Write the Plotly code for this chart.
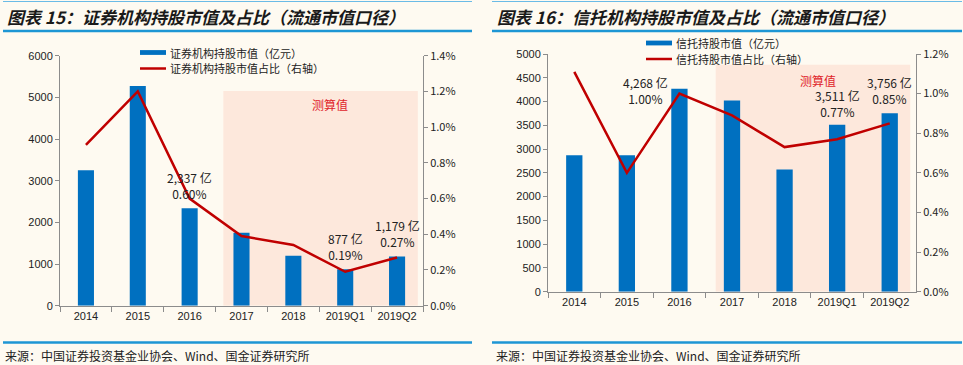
import plotly.graph_objects as go

# ---------------- data ----------------
categories = ["2014", "2015", "2016", "2017", "2018", "2019Q1", "2019Q2"]
sec_value = [3250, 5270, 2337, 1750, 1200, 877, 1179]          # 证券机构持股市值（亿元）
sec_ratio = [0.0090, 0.0120, 0.0060, 0.0039, 0.0034, 0.0019, 0.0027]
trust_value = [2870, 2870, 4268, 4020, 2570, 3511, 3756]        # 信托持股市值（亿元）
trust_ratio = [0.0111, 0.0060, 0.0100, 0.0089, 0.0073, 0.0077, 0.0085]

sec_bar_name = "证券机构持股市值（亿元）"
sec_line_name = "证券机构持股市值占比（右轴）"
trust_bar_name = "信托持股市值（亿元）"
trust_line_name = "信托持股市值占比（右轴）"

left_ticks = [0, 1000, 2000, 3000, 4000, 5000, 6000]
left_pct_ticks = [0, 0.002, 0.004, 0.006, 0.008, 0.010, 0.012, 0.014]
right_ticks = [0, 500, 1000, 1500, 2000, 2500, 3000, 3500, 4000, 4500, 5000]
right_pct_ticks = [0, 0.002, 0.004, 0.006, 0.008, 0.010, 0.012]

W, H = 963, 365
def px(x):
    return x / W
def py(y):
    return 1 - y / H

BLUE = "#0070c0"
RED = "#c00000"
BG = "#fefaf1"
SHADE = "#fde8dc"
RULE = "#1e96d4"
AX = "#8c8c8c"
CJK = "Noto Sans CJK SC, sans-serif"
LAT = "Liberation Sans, Arial, sans-serif"

fig = go.Figure()

fig.add_trace(go.Bar(x=categories, y=sec_value, name=sec_bar_name,
                     marker=dict(color=BLUE, line=dict(width=0)), width=0.31,
                     xaxis="x", yaxis="y", showlegend=False))
fig.add_trace(go.Scatter(x=categories, y=sec_ratio, name=sec_line_name,
                         mode="lines", line=dict(color=RED, width=2.5),
                         xaxis="x", yaxis="y2", showlegend=False))
fig.add_trace(go.Bar(x=categories, y=trust_value, name=trust_bar_name,
                     marker=dict(color=BLUE, line=dict(width=0)), width=0.31,
                     xaxis="x2", yaxis="y3", showlegend=False))
fig.add_trace(go.Scatter(x=categories, y=trust_ratio, name=trust_line_name,
                         mode="lines", line=dict(color=RED, width=2.5),
                         xaxis="x2", yaxis="y4", showlegend=False))

def xax(domain, anchor):
    return dict(domain=domain, anchor=anchor, type="category", showgrid=False,
                showline=True, linecolor=AX, linewidth=1, ticks="outside",
                tickson="boundaries", ticklen=5, tickcolor=AX,
                tickfont=dict(family=LAT, size=11, color="#222"), zeroline=False,
                range=[-0.5, 6.5], fixedrange=True, automargin=False)

def yax(domain, anchor, rng, tv, side="left", overlay=None, pct=False):
    d = dict(anchor=anchor, range=rng, tickvals=tv, showgrid=False, zeroline=False,
             showline=True, linecolor=AX, linewidth=1, ticks="outside", ticklen=4,
             tickcolor=AX, side=side, automargin=False,
             tickfont=dict(family=(CJK if pct else LAT), size=11, color="#222"))
    if overlay:
        d["overlaying"] = overlay
    else:
        d["domain"] = domain
    if pct:
        d["tickformat"] = ".1%"
    return d

ydomL = [py(305.7), py(55.7)]
ydomR = [py(291.7), py(54)]

fig.update_layout(
    width=W, height=H, autosize=False,
    margin=dict(l=0, r=0, t=0, b=0),
    paper_bgcolor=BG, plot_bgcolor=BG,
    font=dict(family=CJK, size=12, color="#222"),
    xaxis=xax([px(60), px(423)], "y"),
    yaxis=yax(ydomL, "x", [0, 6000], left_ticks),
    yaxis2=yax(None, "x", [0, 0.014], left_pct_ticks, side="right", overlay="y", pct=True),
    xaxis2=xax([px(548), px(916)], "y3"),
    yaxis3=yax(ydomR, "x2", [0, 5000], right_ticks),
    yaxis4=yax(None, "x2", [0, 0.012], right_pct_ticks, side="right", overlay="y3", pct=True),
    showlegend=False,
)

# shaded "测算值" regions
fig.add_shape(type="rect", xref="x", yref="y", x0=2.65, x1=6.4, y0=0, y1=5150,
              fillcolor=SHADE, line=dict(width=0), layer="below")
fig.add_shape(type="rect", xref="x2", yref="y3", x0=2.69, x1=6.39, y0=0, y1=4772,
              fillcolor=SHADE, line=dict(width=0), layer="below")

# legends (key + label)
def legend_entry(x0, y, kind, label):
    if kind == "bar":
        fig.add_shape(type="rect", xref="paper", yref="paper", x0=px(x0), x1=px(x0 + 26),
                      y0=py(y + 2.4), y1=py(y - 2.4), fillcolor=BLUE, line=dict(width=0))
    else:
        fig.add_shape(type="line", xref="paper", yref="paper", x0=px(x0), x1=px(x0 + 26),
                      y0=py(y), y1=py(y), line=dict(color=RED, width=2.5))
    fig.add_annotation(xref="paper", yref="paper", x=px(x0 + 29), y=py(y), xanchor="left",
                       yanchor="middle", showarrow=False, text=label, borderpad=0,
                       font=dict(family=CJK, size=11, color="#222"))

legend_entry(140, 52.5, "bar", sec_bar_name)
legend_entry(140, 68.5, "line", sec_line_name)
legend_entry(646, 43, "bar", trust_bar_name)
legend_entry(646, 59, "line", trust_line_name)

# header / footer rules
for x0, x1 in [(3, 472), (492, 962)]:
    fig.add_shape(type="line", xref="paper", yref="paper", x0=px(x0), x1=px(x1),
                  y0=py(1.5), y1=py(1.5), line=dict(color="#6bbbe6", width=1))
    fig.add_shape(type="line", xref="paper", yref="paper", x0=px(x0), x1=px(x1),
                  y0=py(31), y1=py(31), line=dict(color=RULE, width=2.5))
    fig.add_shape(type="line", xref="paper", yref="paper", x0=px(x0), x1=px(x1),
                  y0=py(342.5), y1=py(342.5), line=dict(color=RULE, width=2.5))

# titles & sources
fig.add_annotation(xref="paper", yref="paper", x=px(5), y=py(16), xanchor="left",
                   yanchor="middle", showarrow=False,
                   text="<b><i>图表 15：证券机构持股市值及占比（流通市值口径）</i></b>",
                   font=dict(family=CJK, size=17, color="#1a1a1a"))
fig.add_annotation(xref="paper", yref="paper", x=px(495), y=py(16), xanchor="left",
                   yanchor="middle", showarrow=False,
                   text="<b><i>图表 16：信托机构持股市值及占比（流通市值口径）</i></b>",
                   font=dict(family=CJK, size=17, color="#1a1a1a"))
fig.add_annotation(xref="paper", yref="paper", x=px(3), y=py(355), xanchor="left",
                   yanchor="middle", showarrow=False,
                   text="来源：中国证券投资基金业协会、Wind、国金证券研究所",
                   font=dict(family=CJK, size=12, color="#222"))
fig.add_annotation(xref="paper", yref="paper", x=px(494), y=py(355), xanchor="left",
                   yanchor="middle", showarrow=False,
                   text="来源：中国证券投资基金业协会、Wind、国金证券研究所",
                   font=dict(family=CJK, size=12, color="#222"))

# 测算值 labels
fig.add_annotation(xref="x", yref="y", x=4.71, y=4817, text="测算值", showarrow=False,
                   font=dict(family=CJK, size=12, color="#e0242a"))
fig.add_annotation(xref="x2", yref="y3", x=4.64, y=4453, text="测算值", showarrow=False,
                   font=dict(family=CJK, size=12, color="#e0242a"))

# data labels
def lab(xr, yr, x, y, v, r):
    fig.add_annotation(xref=xr, yref=yr, x=x, y=y, showarrow=False,
                       text=f"{v:,} 亿<br>{r*100:.2f}%",
                       font=dict(family=CJK, size=12, color="#222"))

lab("x", "y", 2, 2873, sec_value[2], sec_ratio[2])
lab("x", "y", 5, 1409, sec_value[5], sec_ratio[5])
lab("x", "y", 6, 1721, sec_value[6], sec_ratio[6])
lab("x2", "y3", 1.36, 4222, trust_value[2], trust_ratio[2])
lab("x2", "y3", 5, 3969, trust_value[5], trust_ratio[5])
lab("x2", "y3", 6, 4222, trust_value[6], trust_ratio[6])

fig.write_html("out.html", config={"displayModeBar": False},
               post_script="document.body.style.margin='0';")
